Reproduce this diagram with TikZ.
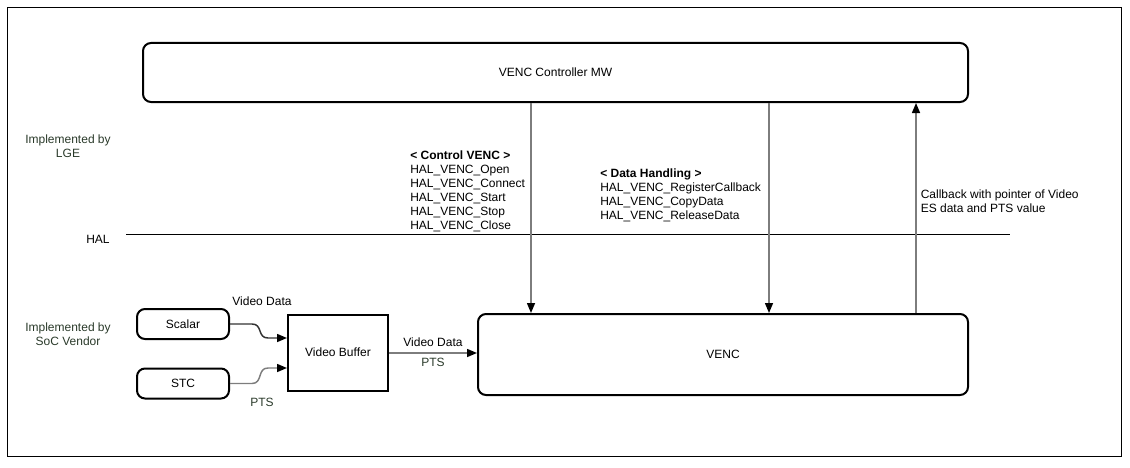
\documentclass[tikz,border=0pt]{standalone}
\usepackage{fontspec}
\setmainfont{Liberation Sans}
\usetikzlibrary{arrows.meta}
\definecolor{lgray}{RGB}{125,125,125}
\definecolor{dgreen}{RGB}{42,58,42}
\begin{document}
\begin{tikzpicture}[x=0.75pt,y=-0.75pt,
  every node/.style={font=\fontsize{9pt}{10.5pt}\selectfont},
  rbox/.style={draw=black,line width=1.5pt,rounded corners=6pt,inner sep=0pt},
  sbox/.style={draw=black,line width=1.5pt,inner sep=0pt},
  lbl/.style={inner sep=0pt,align=left,anchor=north west},
  side/.style={inner sep=0pt,align=center,text=dgreen},
  conn/.style={line width=1.1pt,draw=lgray,-{Triangle[length=7.5pt,width=6pt,color=black]}},
  dconn/.style={line width=1.1pt,draw=black!80,-{Triangle[length=7.5pt,width=6pt,color=black]}}
]
\useasboundingbox (0,0) rectangle (1130,467);
\draw[line width=0.75pt] (7.5,7.5) rectangle (1121,456.5);

\node[rbox,minimum width=618.75pt,minimum height=44.25pt] (mw) at (555.5,72.5) {VENC Controller MW};
\node[rbox,minimum width=367.5pt,minimum height=60.75pt] (venc) at (723,354.5) {VENC};
\node[rbox,minimum width=69pt,minimum height=22.5pt] (scalar) at (183,324) {Scalar};
\node[rbox,minimum width=69pt,minimum height=22.5pt] (stc) at (183,383.5) {STC};
\node[sbox,minimum width=75pt,minimum height=57pt] (buf) at (338,352.5) {Video Buffer};

% side labels
\node[side] (lge) at (68,146) {Implemented by\\LGE};
\node[inner sep=0pt] (hal) at (98,239) {HAL};
\node[side] (soc) at (68,334) {Implemented by\\SoC Vendor};

% HAL line
\coordinate (hl) at (126,234);
\coordinate (hr) at (1010,234);
\draw[line width=0.75pt] (hl) -- (hr);

% vertical connectors
\draw[conn] (mw.south -| 531,0) -- (venc.north -| 531,0);
\draw[conn] (mw.south -| 769,0) -- (venc.north -| 769,0);
\draw[conn] (venc.north -| 916,0) -- (mw.south -| 916,0);

% text blocks
\node[lbl] (ctl) at (410,150.4) {\textbf{< Control VENC >}\\HAL\_VENC\_Open\\HAL\_VENC\_Connect\\HAL\_VENC\_Start\\HAL\_VENC\_Stop\\HAL\_VENC\_Close};
\node[lbl] (dh) at (600,168.4) {\textbf{< Data Handling >}\\HAL\_VENC\_RegisterCallback\\HAL\_VENC\_CopyData\\HAL\_VENC\_ReleaseData};
\node[lbl] (cb) at (920.5,189.4) {Callback with pointer of Video\\ES data and PTS value};

% input connectors
\draw[dconn] (scalar.east) -- (252,324) .. controls (263,324) and (257,338) .. (268,338) -- (buf.west |- 0,338);
\draw[conn] (stc.east) -- (252,383.5) .. controls (263,383.5) and (257,368) .. (268,368) -- (buf.west |- 0,368);
\draw[conn] (buf.east |- 0,353) -- (venc.west |- 0,353);

\node[inner sep=0pt] (vd1) at (262,301) {Video Data};
\node[inner sep=0pt,text=dgreen] (pts1) at (262,402) {PTS};
\node[inner sep=0pt] (vd2) at (433,342) {Video Data};
\node[inner sep=0pt,text=dgreen] (pts2) at (433,362) {PTS};
\end{tikzpicture}
\end{document}
